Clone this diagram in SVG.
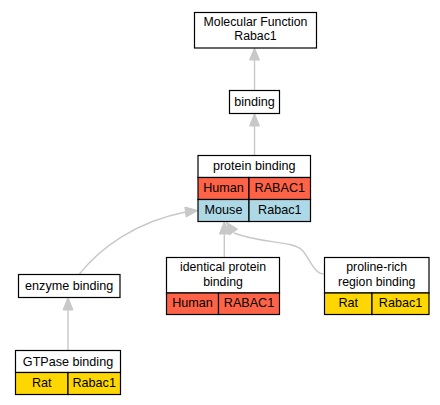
<svg xmlns="http://www.w3.org/2000/svg" width="440" height="405" viewBox="0 0 440 405">
<style>
text{font-family:"Liberation Sans",Arial,sans-serif;font-size:12.6px;fill:#000;text-anchor:middle}
.two{font-size:12.3px}
.box{fill:#fff;stroke:#000;stroke-width:1.2}
.cell{stroke:#000;stroke-width:1.2}
.human{fill:#ff6347}
.mouse{fill:#add8e6}
.rat{fill:#ffd700}
.edge{fill:none;stroke:#c8c8c8;stroke-width:1.4}
.ah{fill:#c8c8c8;stroke:#c8c8c8;stroke-width:1}
</style>
<rect width="440" height="405" fill="#fff"/>
<g id="connectors">
<path class="edge" d="M254.5,90.5 V60"/>
<polygon class="ah" points="254.5,48 249.5,60 259.5,60"/>
<path class="edge" d="M254.5,155.5 V126"/>
<polygon class="ah" points="254.5,113.5 249.5,126 259.5,126"/>
<path class="edge" d="M224.3,257.5 V234"/>
<polygon class="ah" points="224.3,221.8 219.3,234 229.3,234"/>
<path class="edge" d="M68,350.5 V310"/>
<polygon class="ah" points="68,297.5 63,310 73,310"/>
<path class="edge" d="M79,274.5 C100,248 135,222 185.5,212"/>
<polygon class="ah" points="197.8,210.5 184.9,207 186.1,217"/>
<path class="edge" d="M325,274 C314,274 311,261 303,251 C293,240 262,244 234,233"/>
<polygon class="ah" points="226.5,222.2 237.6,229.1 229.4,234.9"/>
</g>
<g id="molecular-function">
<rect class="box" x="194.5" y="12.5" width="122" height="35.5"/>
<text class="two" x="255.5" y="26.2">Molecular Function</text>
<text class="two" x="255.5" y="40.4">Rabac1</text>
</g>
<g id="binding">
<rect class="box" x="229.5" y="90.5" width="50" height="23"/>
<text x="254.5" y="105.5">binding</text>
</g>
<g id="protein-binding">
<rect class="box" x="198" y="155.5" width="112.5" height="22"/>
<text x="254.2" y="170">protein binding</text>
<rect class="cell human" x="198" y="177.5" width="51" height="22"/>
<rect class="cell human" x="249" y="177.5" width="61.5" height="22"/>
<text x="223.5" y="191.8">Human</text>
<text x="279.8" y="191.8">RABAC1</text>
<rect class="cell mouse" x="198" y="199.5" width="51" height="22"/>
<rect class="cell mouse" x="249" y="199.5" width="61.5" height="22"/>
<text x="223.5" y="213.8">Mouse</text>
<text x="279.8" y="213.8">Rabac1</text>
</g>
<g id="enzyme-binding">
<rect class="box" x="18.5" y="274.5" width="101.5" height="23"/>
<text x="69.2" y="289.5">enzyme binding</text>
</g>
<g id="gtpase-binding">
<rect class="box" x="15.5" y="350.5" width="105" height="22"/>
<text x="68" y="366">GTPase binding</text>
<rect class="cell rat" x="15.5" y="372.5" width="52.5" height="22"/>
<rect class="cell rat" x="68" y="372.5" width="52.5" height="22"/>
<text x="41.8" y="387">Rat</text>
<text x="94.2" y="387">Rabac1</text>
</g>
<g id="identical-protein-binding">
<rect class="box" x="166.5" y="257.5" width="113" height="35.5"/>
<text class="two" x="223" y="271.4">identical protein</text>
<text class="two" x="223" y="285.6">binding</text>
<rect class="cell human" x="166.5" y="293" width="52" height="21.5"/>
<rect class="cell human" x="218.5" y="293" width="61" height="21.5"/>
<text x="192.5" y="307.2">Human</text>
<text x="249" y="307.2">RABAC1</text>
</g>
<g id="proline-rich-region-binding">
<rect class="box" x="324.5" y="257.5" width="104.5" height="35.5"/>
<text class="two" x="376.7" y="271.4">proline-rich</text>
<text class="two" x="376.7" y="285.6">region binding</text>
<rect class="cell rat" x="324.5" y="293" width="47.5" height="21.5"/>
<rect class="cell rat" x="372" y="293" width="57" height="21.5"/>
<text x="348.2" y="307.2">Rat</text>
<text x="400.5" y="307.2">Rabac1</text>
</g>
</svg>
